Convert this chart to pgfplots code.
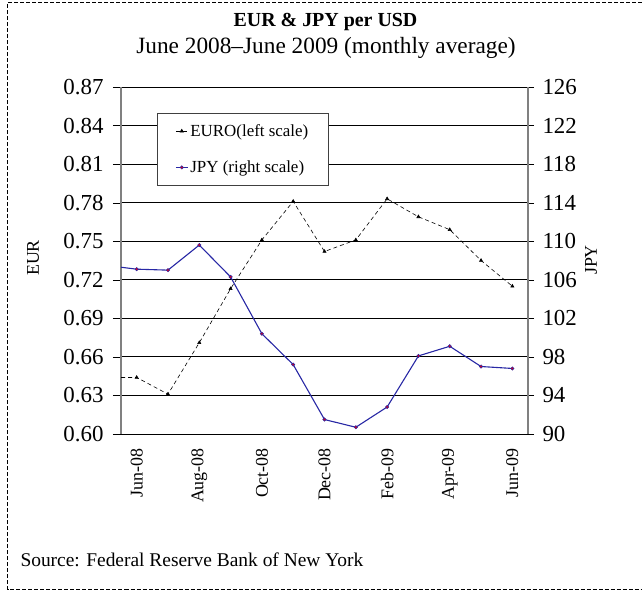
\documentclass[border=0pt]{standalone}
\usepackage{fontspec}
\setmainfont{Liberation Serif}
\usepackage{pgfplots}
\pgfplotsset{compat=1.18}

\definecolor{jpyline}{RGB}{40,40,165}
\definecolor{jpymark}{RGB}{200,0,40}
\definecolor{axgray}{RGB}{128,128,128}

\begin{document}
\begin{tikzpicture}
\path[use as bounding box] (0bp,0bp) rectangle (642bp,590bp);
\draw[line width=1.2bp, dash pattern=on 4bp off 2bp] (642bp,587.3bp) -- (7.5bp,587.3bp) -- (7.5bp,0.8bp) -- (642bp,0.8bp);

\node[anchor=base, font=\bfseries\fontsize{20}{24}\selectfont] at (325.5bp,563bp) {EUR \& JPY per USD};
\node[anchor=base, font=\fontsize{23.4}{27}\selectfont] at (326bp,536bp) {June 2008–June 2009 (monthly average)};
\node[anchor=base west, font=\fontsize{19.5}{23}\selectfont] at (17bp,24bp) {Source: Federal Reserve Bank of New York};
\node[rotate=90, font=\fontsize{18}{22}\selectfont] at (33bp,332bp) {EUR};
\node[rotate=90, font=\fontsize{18}{22}\selectfont] at (591bp,330bp) {JPY};

% EUR, left scale
\begin{axis}[
    at={(121bp,156bp)}, anchor=south west,
    width=407bp, height=347bp, scale only axis,
    xmin=-0.5, xmax=12.5, ymin=0.60, ymax=0.87,
    axis x line*=bottom, axis y line*=left,
    x axis line style={-, black},
    y axis line style={-, axgray, line width=1.2bp},
    tick align=outside,
    xtick={0,2,...,12},
    xticklabels={Jun-08,Aug-08,Oct-08,Dec-08,Feb-09,Apr-09,Jun-09},
    major x tick style={draw=none},
    extra x ticks={-0.5,1.5,3.5,5.5,7.5,9.5,11.5},
    extra x tick labels={},
    extra x tick style={major tick length=5bp, tick style={black}, grid=none},
    xticklabel style={rotate=90, anchor=east, font=\fontsize{18}{22}\selectfont, inner sep=0pt},
    xticklabel shift=6bp,
    ytick={0.60,0.63,...,0.87},
    yticklabel style={font=\fontsize{23}{27}\selectfont, xshift=-6bp, /pgf/number format/.cd, fixed, fixed zerofill, precision=2, assume math mode=true},
    major y tick style={black},
    major tick length=8bp,
    ymajorgrids, major grid style={black, line width=0.8bp},
]
\addplot[black, dash pattern=on 4bp off 3bp, line width=0.6bp,
    mark=triangle*, mark size=1.8bp, mark options={solid}, mark phase=2]
    coordinates {(-0.5,0.644) (0,0.644) (1,0.631) (2,0.671) (3,0.713) (4,0.751)
    (5,0.781) (6,0.742) (7,0.751) (8,0.783) (9,0.769) (10,0.759) (11,0.735) (12,0.715)};
\end{axis}

% JPY, right scale
\begin{axis}[
    at={(121bp,156bp)}, anchor=south west,
    width=407bp, height=347bp, scale only axis,
    xmin=-0.5, xmax=12.5, ymin=90, ymax=126,
    axis x line=none, axis y line*=right,
    y axis line style={-, axgray, line width=1.2bp},
    tick align=outside,
    ytick={90,94,...,126},
    yticklabel style={font=\fontsize{23}{27}\selectfont, xshift=5bp, /pgf/number format/assume math mode=true},
    major y tick style={black},
    major tick length=6bp,
    legend style={at={(rel axis cs:0.088,0.925)}, anchor=north west,
        draw=black!75, fill=white, line width=0.8bp,
        font=\fontsize{17}{20}\selectfont, inner xsep=18bp, inner ysep=9bp,
        row sep=19bp},
    legend cell align=left,
    legend image code/.code={\draw[#1, mark repeat=2, mark phase=2] plot coordinates {(0bp,0bp) (6bp,0bp) (12bp,0bp)};},
]
\addlegendimage{black, dash pattern=on 4bp off 3bp, line width=0.6bp, mark=triangle*, mark size=1.8bp, mark options={solid}}
\addlegendentry{EURO(left scale)}
\addplot[jpyline, line width=1.1bp,
    mark=*, mark size=1.7bp, mark options={fill=jpymark, draw=jpyline, line width=0.5bp}, mark phase=2]
    coordinates {(-0.5,107.3) (0,107.1) (1,107.0) (2,109.6) (3,106.3) (4,100.4)
    (5,97.2) (6,91.5) (7,90.7) (8,92.8) (9,98.1) (10,99.1) (11,97.0) (12,96.8)};
\addlegendentry{JPY (right scale)}
\end{axis}
\end{tikzpicture}
\end{document}
